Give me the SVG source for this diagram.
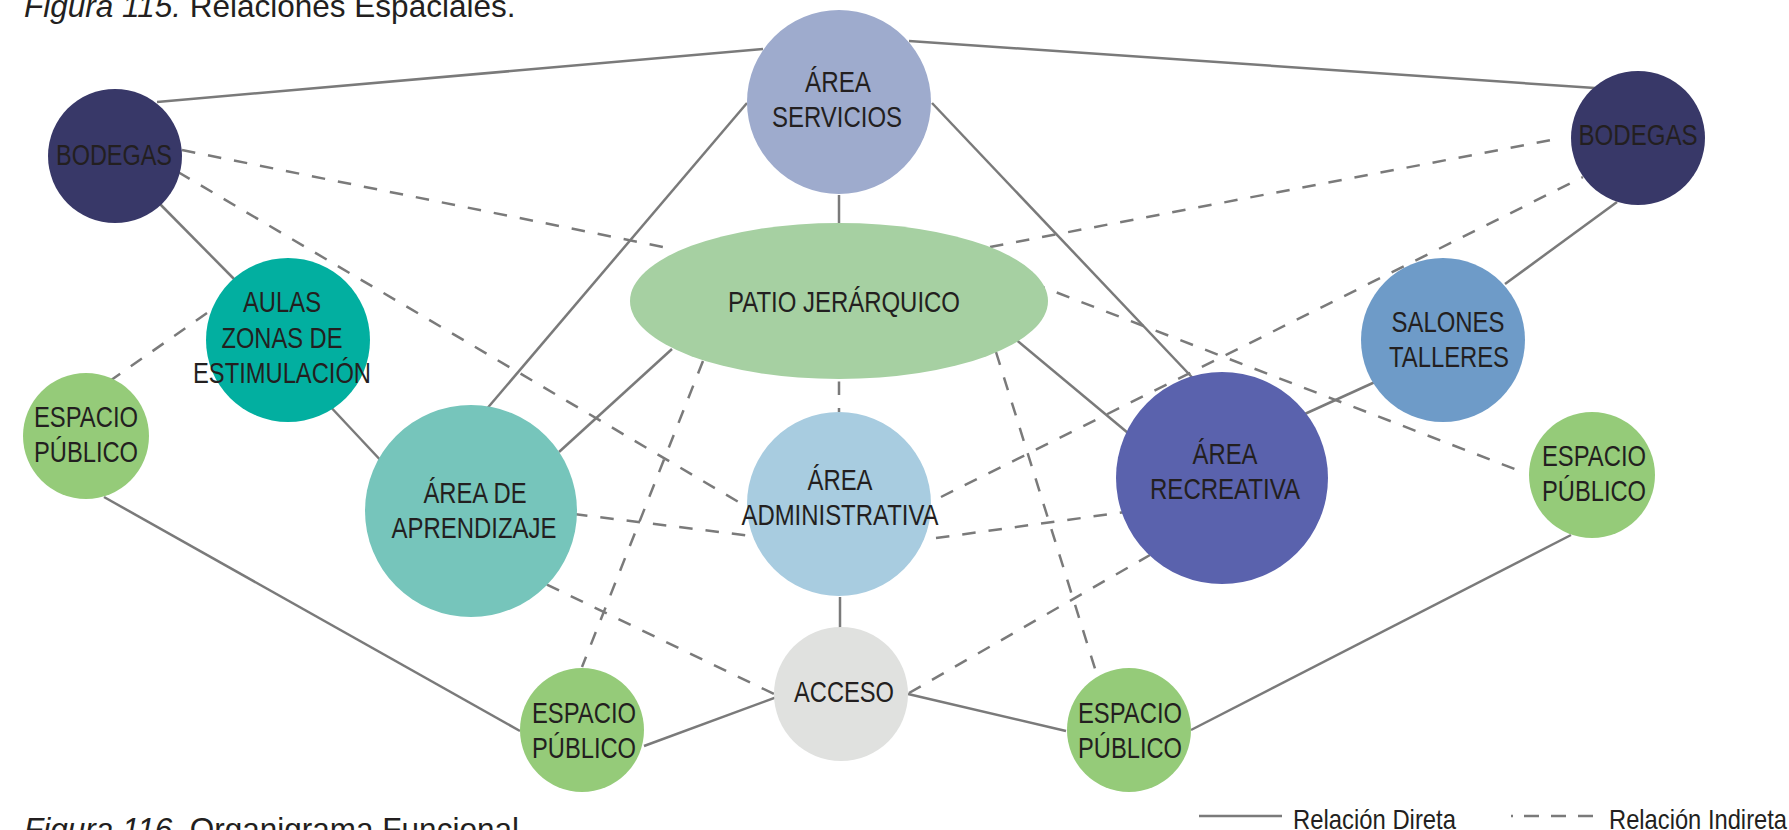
<svg xmlns="http://www.w3.org/2000/svg" width="1789" height="830" viewBox="0 0 1789 830">
<style>
.c{stroke:#7a7a7a;stroke-width:2.5;fill:none;stroke-linecap:butt}
.d{stroke-dasharray:13.5 13}
.t{font-family:"Liberation Sans Narrow","Liberation Sans",Arial,sans-serif;font-size:30px;fill:#231f20;text-anchor:middle}
.cap{font-family:"Liberation Sans",Arial,sans-serif;font-size:31.5px;fill:#231f20}
.lg{font-family:"Liberation Sans Narrow","Liberation Sans",Arial,sans-serif;font-size:28px;fill:#231f20}
</style>
<rect width="1789" height="830" fill="#ffffff"/>
<text class="cap" x="24" y="17"><tspan font-style="italic">Figura 115.</tspan> Relaciones Espaciales.</text>
<text class="cap" x="24" y="840"><tspan font-style="italic">Figura 116.</tspan> Organigrama Funcional</text>
<g id="connectors">
<line class="c" x1="157" y1="102" x2="763" y2="49"/>
<line class="c" x1="909" y1="41" x2="1595" y2="88"/>
<line class="c" x1="155" y1="199" x2="237" y2="282"/>
<line class="c" x1="747" y1="103" x2="485" y2="411"/>
<line class="c" x1="932" y1="103" x2="1206" y2="392"/>
<line class="c" x1="839" y1="195" x2="839" y2="232"/>
<line class="c" x1="326" y1="402" x2="385" y2="465"/>
<line class="c" x1="672" y1="349" x2="559" y2="452"/>
<line class="c" x1="1013" y1="337" x2="1128" y2="433"/>
<line class="c" x1="1617" y1="202" x2="1505" y2="284"/>
<line class="c" x1="1375" y1="382" x2="1285" y2="423"/>
<line class="c" x1="104" y1="497" x2="520" y2="731"/>
<line class="c" x1="644" y1="746" x2="785" y2="694"/>
<line class="c" x1="908" y1="694" x2="1066" y2="731"/>
<line class="c" x1="1191" y1="730" x2="1571" y2="535"/>
<line class="c" x1="840" y1="597" x2="840" y2="642"/>
<line class="c d" x1="182" y1="150" x2="673" y2="249"/>
<line class="c d" x1="178" y1="172" x2="747" y2="507"/>
<line class="c d" x1="207" y1="313" x2="107" y2="383"/>
<line class="c d" x1="990" y1="247" x2="1562" y2="138"/>
<line class="c d" x1="1032" y1="283" x2="1525" y2="473"/>
<line class="c d" x1="839" y1="355" x2="839" y2="412"/>
<line class="c d" x1="703" y1="361" x2="582" y2="667"/>
<line class="c d" x1="996" y1="352" x2="1097" y2="675"/>
<line class="c d" x1="574" y1="514" x2="751" y2="536"/>
<line class="c d" x1="523" y1="573" x2="774" y2="694"/>
<line class="c d" x1="936" y1="538" x2="1147" y2="509"/>
<line class="c d" x1="941" y1="497" x2="1583" y2="177"/>
<line class="c d" x1="909" y1="693" x2="1150" y2="555"/>
</g>
<g id="bodegas-l"><circle cx="115" cy="156" r="67" fill="#383868"/><text class="t" x="114" y="165" textLength="116" lengthAdjust="spacingAndGlyphs">BODEGAS</text></g>
<g id="bodegas-r"><circle cx="1638" cy="138" r="67" fill="#383868"/><text class="t" x="1638" y="145" textLength="119" lengthAdjust="spacingAndGlyphs">BODEGAS</text></g>
<g id="area-servicios"><circle cx="839" cy="102" r="92" fill="#9eabcd"/><text class="t" x="838" y="92" textLength="66" lengthAdjust="spacingAndGlyphs">ÁREA</text><text class="t" x="837" y="127" textLength="130" lengthAdjust="spacingAndGlyphs">SERVICIOS</text></g>
<g id="patio"><ellipse cx="839" cy="301" rx="209" ry="78" fill="#a6d0a2"/><text class="t" x="844" y="312" textLength="232" lengthAdjust="spacingAndGlyphs">PATIO JERÁRQUICO</text></g>
<g id="aulas"><circle cx="288" cy="340" r="82" fill="#02afa0"/><text class="t" x="282" y="312" textLength="78" lengthAdjust="spacingAndGlyphs">AULAS</text><text class="t" x="282" y="348" textLength="121" lengthAdjust="spacingAndGlyphs">ZONAS DE</text><text class="t" x="282" y="383" textLength="178" lengthAdjust="spacingAndGlyphs">ESTIMULACIÓN</text></g>
<g id="salones"><circle cx="1443" cy="340" r="82" fill="#6e9bc8"/><text class="t" x="1448" y="332" textLength="113" lengthAdjust="spacingAndGlyphs">SALONES</text><text class="t" x="1449" y="367" textLength="120" lengthAdjust="spacingAndGlyphs">TALLERES</text></g>
<g id="espacio-l"><circle cx="86" cy="436" r="63" fill="#95cb79"/><text class="t" x="86" y="427" textLength="104" lengthAdjust="spacingAndGlyphs">ESPACIO</text><text class="t" x="86" y="462" textLength="104" lengthAdjust="spacingAndGlyphs">PÚBLICO</text></g>
<g id="espacio-r"><circle cx="1592" cy="475" r="63" fill="#95cb79"/><text class="t" x="1594" y="466" textLength="104" lengthAdjust="spacingAndGlyphs">ESPACIO</text><text class="t" x="1594" y="501" textLength="104" lengthAdjust="spacingAndGlyphs">PÚBLICO</text></g>
<g id="aprendizaje"><circle cx="471" cy="511" r="106" fill="#76c5bb"/><text class="t" x="475" y="503" textLength="103" lengthAdjust="spacingAndGlyphs">ÁREA DE</text><text class="t" x="474" y="538" textLength="165" lengthAdjust="spacingAndGlyphs">APRENDIZAJE</text></g>
<g id="administrativa"><circle cx="839" cy="504" r="92" fill="#a8cce0"/><text class="t" x="840" y="490" textLength="65" lengthAdjust="spacingAndGlyphs">ÁREA</text><text class="t" x="840" y="525" textLength="197" lengthAdjust="spacingAndGlyphs">ADMINISTRATIVA</text></g>
<g id="recreativa"><circle cx="1222" cy="478" r="106" fill="#5a62ad"/><text class="t" x="1225" y="464" textLength="65" lengthAdjust="spacingAndGlyphs">ÁREA</text><text class="t" x="1225" y="499" textLength="150" lengthAdjust="spacingAndGlyphs">RECREATIVA</text></g>
<g id="acceso"><circle cx="841" cy="694" r="67" fill="#e0e1df"/><text class="t" x="844" y="702" textLength="100" lengthAdjust="spacingAndGlyphs">ACCESO</text></g>
<g id="espacio-bl"><circle cx="582" cy="730" r="62" fill="#95cb79"/><text class="t" x="584" y="723" textLength="104" lengthAdjust="spacingAndGlyphs">ESPACIO</text><text class="t" x="584" y="758" textLength="104" lengthAdjust="spacingAndGlyphs">PÚBLICO</text></g>
<g id="espacio-br"><circle cx="1129" cy="730" r="62" fill="#95cb79"/><text class="t" x="1130" y="723" textLength="104" lengthAdjust="spacingAndGlyphs">ESPACIO</text><text class="t" x="1130" y="758" textLength="104" lengthAdjust="spacingAndGlyphs">PÚBLICO</text></g>
<g id="legend">
<line class="c" x1="1199" y1="816" x2="1282" y2="816"/>
<text class="lg" x="1293" y="829" textLength="163" lengthAdjust="spacingAndGlyphs">Relación Direta</text>
<line class="c" x1="1511" y1="816" x2="1513" y2="816"/>
<line class="c" x1="1524" y1="816" x2="1539" y2="816"/>
<line class="c" x1="1551" y1="816" x2="1566" y2="816"/>
<line class="c" x1="1578" y1="816" x2="1593" y2="816"/>
<text class="lg" x="1609" y="829" textLength="178" lengthAdjust="spacingAndGlyphs">Relación Indireta</text>
</g>
</svg>
